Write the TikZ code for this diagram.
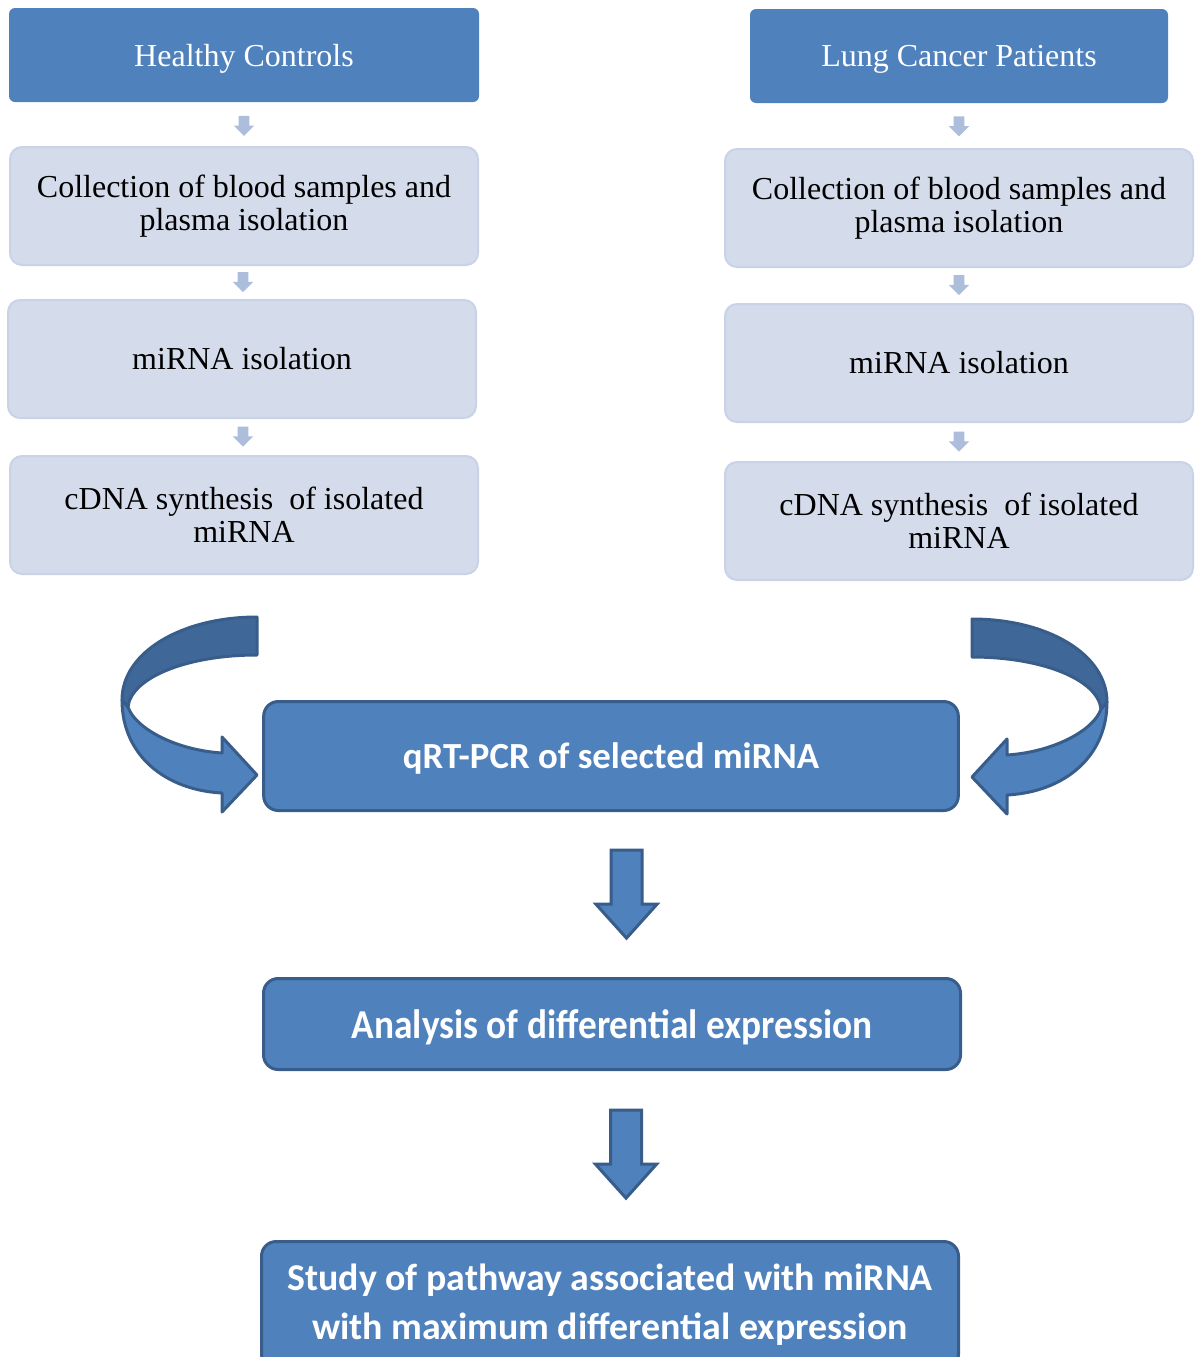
\documentclass[tikz,border=0pt]{standalone}
\usepackage{fontspec}
\setmainfont{Liberation Serif}
\newfontfamily\calibri{Carlito}
\usetikzlibrary{shapes.arrows,calc}
\definecolor{hdr}{HTML}{4F81BD}
\definecolor{hdrline}{HTML}{385D8A}
\definecolor{lightfill}{HTML}{D4DCEB}
\definecolor{lightline}{HTML}{C9D3E8}
\definecolor{smallarr}{HTML}{ACBEDC}
\definecolor{darkband}{HTML}{3F6898}
\begin{document}
\begin{tikzpicture}[x=0.75pt,y=-0.75pt,
  header/.style={fill=hdr, rounded corners=4.5pt, text=white,
    font=\fontsize{24}{25}\selectfont, minimum height=70.5pt,
    align=center, inner sep=0pt, text depth=0pt},
  lightbox/.style={fill=lightfill, draw=lightline, line width=1.5pt,
    rounded corners=9pt, font=\fontsize{24}{25}\selectfont,
    minimum width=351pt, minimum height=88.5pt, align=center, inner sep=0pt},
  smallarrow/.style={single arrow, fill=smallarr, shape border rotate=270,
    minimum height=15pt, inner sep=3.75pt, single arrow head extend=3.75pt,
    outer sep=0pt},
  bigbox/.style={fill=hdr, draw=hdrline, line width=2.25pt, rounded corners=11pt,
    text=white, font=\calibri\bfseries\fontsize{28}{37}\selectfont,
    align=center, inner sep=0pt},
  bigarrow/.style={single arrow, fill=hdr, draw=hdrline, line width=2.25pt,
    shape border rotate=270, minimum height=66pt, inner sep=10.5pt,
    single arrow head extend=11.25pt, single arrow tip angle=84, outer sep=0pt},
  bandlight/.style={fill=hdr, draw=hdrline, line width=2.25pt, line join=round},
  banddark/.style={fill=darkband, draw=hdrline, line width=2.25pt, line join=round}
]
\useasboundingbox (0,0) rectangle (1198,1357);
\clip (0,0) rectangle (1198,1357);

% left column
\node[header, minimum width=352.5pt] (hc) at (244,55) {Healthy Controls};
\node[lightbox] (l1) at (244,206) {Collection of blood samples and\\plasma isolation};
\node[lightbox] (l2) at (242,359) {miRNA isolation};
\node[lightbox] (l3) at (244,515) {cDNA synthesis\ \ of isolated\\miRNA};
\node[smallarrow] (la1) at ($(hc.south)!0.5!(l1.north)+(0,-1)$) {};
\node[smallarrow] (la2) at ($(l1.south)!0.5!(l2.north)+(0,-3)$) {};
\node[smallarrow] (la3) at ($(l2.south)!0.5!(l3.north)+(0,-3)$) {};

% right column
\node[header, minimum width=313.5pt] (lc) at (959,56) {Lung Cancer Patients};
\node[lightbox] (r1) at (959,208) {Collection of blood samples and\\plasma isolation};
\node[lightbox] (r2) at (959,363) {miRNA isolation};
\node[lightbox] (r3) at (959,521) {cDNA synthesis\ \ of isolated\\miRNA};
\node[smallarrow] (ra1) at ($(lc.south)!0.5!(r1.north)+(0,-2)$) {};
\node[smallarrow] (ra2) at ($(r1.south)!0.5!(r2.north)+(0,-3)$) {};
\node[smallarrow] (ra3) at ($(r2.south)!0.5!(r3.north)+(0,-3)$) {};

% central flow
\node[bigbox, minimum width=521pt, minimum height=81.75pt, text depth=0pt,
  font=\calibri\bfseries\fontsize{27.6}{37}\selectfont] (q) at (611,756) {qRT-PCR of selected miRNA};
\node[bigbox, minimum width=522.75pt, minimum height=68.25pt, text depth=0pt] (an) at (612,1024) {\scalebox{1}[1.1]{Analysis of differential expression}};
\node[bigbox, minimum width=522.75pt, minimum height=95.25pt,
  font=\calibri\bfseries\fontsize{28.4}{37}\selectfont] (st) at (610,1305) {Study of pathway associated with miRNA\\with maximum differential expression};
\node[bigarrow] (da1) at ($(q.south)!0.5!(an.north)+(15,-9)$) {};
\node[bigarrow] (da2) at ($(an.south)!0.5!(st.north)+(15,-10)$) {};

% curved arrows into the qRT-PCR box
\draw[bandlight] (122,700) .. controls (122,755) and (165,790) .. (222,793)
  -- (222,812) -- (257,775) -- (222,737) -- (222,753)
  .. controls (175,750) and (135,728) .. (128,707) -- cycle;
\draw[banddark] (257,617) .. controls (182,617) and (122,652) .. (122,700)
  -- (128,707) .. controls (131,678) and (186,655) .. (257,655) -- cycle;
\begin{scope}[shift={(1229,2)}, xscale=-1]
\draw[bandlight] (122,700) .. controls (122,755) and (165,790) .. (222,793)
  -- (222,812) -- (257,775) -- (222,737) -- (222,753)
  .. controls (175,750) and (135,728) .. (128,707) -- cycle;
\draw[banddark] (257,617) .. controls (182,617) and (122,652) .. (122,700)
  -- (128,707) .. controls (131,678) and (186,655) .. (257,655) -- cycle;
\end{scope}
\end{tikzpicture}
\end{document}
